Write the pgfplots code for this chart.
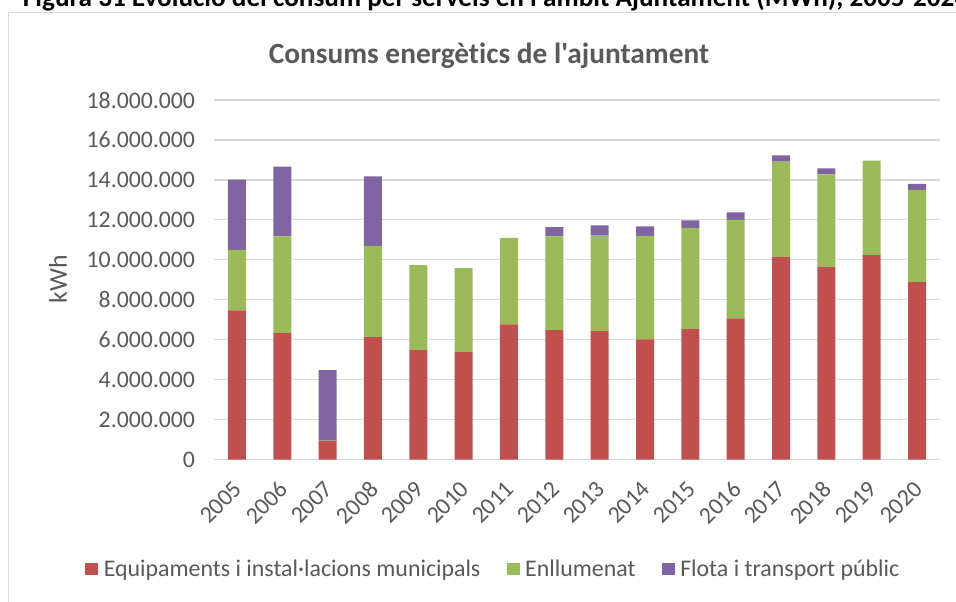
\documentclass[border=0pt]{standalone}
\usepackage{fontspec}
\setmainfont{Carlito}[Ligatures={TeXOff,NoCommon}]
\usepackage{pgfplots}
\pgfplotsset{compat=1.18}
\definecolor{cred}{HTML}{C0504D}
\definecolor{cgreen}{HTML}{9BBB59}
\definecolor{cpurple}{HTML}{8064A2}
\definecolor{gridgray}{HTML}{D9D9D9}
\definecolor{txtgray}{HTML}{595959}
\begin{document}
\begin{tikzpicture}
\useasboundingbox (0,0) rectangle (717pt,450.75pt);
\begin{scope}
\clip (0,0) rectangle (717pt,450.75pt);
\draw[gridgray, line width=0.9pt] (6.5pt,441.5pt) rectangle (730pt,-10pt);
\node[anchor=base west, inner sep=0pt, font=\fontsize{20.4}{24}\selectfont\bfseries] at (17pt,445.9pt) {Figura 31 Evolució del consum per serveis en l'àmbit Ajuntament (MWh), 2005-2020.};
\end{scope}
\node[anchor=base, inner sep=0pt, text=txtgray, font=\fontsize{22}{26}\selectfont\bfseries] at (366.75pt,402.9pt) {Consums energètics de l'ajuntament};
\node[rotate=90, inner sep=0pt, text=txtgray, font=\fontsize{19.3}{23}\selectfont] at (43.5pt,241.5pt) {kWh};
\begin{axis}[
  at={(160.725pt,106.125pt)}, anchor=south west,
  scale only axis, width=544.05pt, height=269.6pt,
  ybar stacked, bar width=13.5pt,
  xmin=-0.5, xmax=15.5, ymin=0, ymax=18000000,
  xtick=data,
  xticklabels={2005,2006,2007,2008,2009,2010,2011,2012,2013,2014,2015,2016,2017,2018,2019,2020},
  ytick={0,2000000,4000000,6000000,8000000,10000000,12000000,14000000,16000000,18000000},
  scaled y ticks=false,
  /pgf/number format/assume math mode=true,
  yticklabel style={/pgf/number format/fixed, /pgf/number format/1000 sep={.}, anchor=east, xshift=-11pt},
  xticklabel style={rotate=45, anchor=north east, xshift=-9.7pt, yshift=-5pt},
  tick label style={font=\fontsize{17.8}{21}\selectfont, text=txtgray},
  major tick length=0pt,
  axis x line*=bottom, axis y line*=left,
  y axis line style={draw=none},
  x axis line style={draw=gridgray, line width=1.2pt},
  ymajorgrids, grid style={draw=gridgray, line width=0.9pt},
  legend columns=3,
  legend style={at={(0.385,-0.3046)}, anchor=center, draw=none, fill=none,
    font=\fontsize{17.9}{21}\selectfont, text=txtgray,
    /tikz/every even column/.append style={column sep=17.5pt}},
  legend image code/.code={\fill[#1] (0pt,-4.5pt) rectangle (10pt,4.5pt); \path (12pt,0pt);},
]
\addplot[fill=cred, draw=none] coordinates {(0,7470000) (1,6330000) (2,930000) (3,6130000) (4,5480000) (5,5380000) (6,6770000) (7,6480000) (8,6430000) (9,6020000) (10,6530000) (11,7070000) (12,10130000) (13,9630000) (14,10230000) (15,8880000)};
\addplot[fill=cgreen, draw=none] coordinates {(0,3030000) (1,4840000) (2,20000) (3,4570000) (4,4250000) (5,4200000) (6,4330000) (7,4690000) (8,4800000) (9,5180000) (10,5070000) (11,4930000) (12,4790000) (13,4650000) (14,4740000) (15,4620000)};
\addplot[fill=cpurple, draw=none] coordinates {(0,3520000) (1,3500000) (2,3520000) (3,3480000) (4,0) (5,0) (6,0) (7,460000) (8,490000) (9,480000) (10,370000) (11,380000) (12,310000) (13,300000) (14,0) (15,300000)};
\legend{Equipaments i instal·lacions municipals, Enllumenat, Flota i transport públic}
\end{axis}
\end{tikzpicture}
\end{document}
